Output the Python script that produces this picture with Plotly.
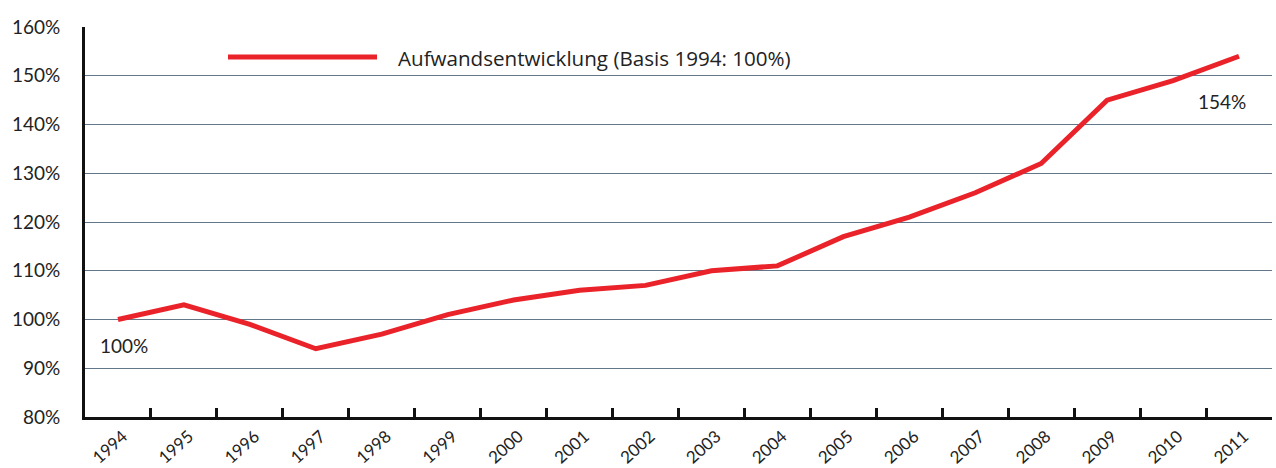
import plotly.graph_objects as go

years = [str(y) for y in range(1994, 2012)]
values = [100, 103, 99, 94, 97, 101, 104, 106, 107, 110, 111, 117, 121, 126, 132, 145, 149, 154]
series_name = "Aufwandsentwicklung (Basis 1994: 100%)"
y_ticks = [80, 90, 100, 110, 120, 130, 140, 150, 160]

red = "#ea2229"
grid = "#62788a"

fig = go.Figure()
fig.add_trace(go.Scatter(
    x=years, y=values, mode="lines", name=series_name,
    line=dict(color=red, width=5), showlegend=False, hoverinfo="skip",
))

first_idx = 0
last_idx = len(years) - 1

fig.update_layout(
    width=1276, height=468,
    margin=dict(l=85, r=4, t=27, b=51),
    paper_bgcolor="white", plot_bgcolor="white",
    font=dict(family="Lato, Open Sans, sans-serif", color="#222222"),
    xaxis=dict(
        type="category", range=[-0.5, 17.5], automargin=False,
        showline=True, linecolor="#111111", linewidth=3,
        ticks="inside", tickson="boundaries", ticklen=9, tickwidth=2.5, tickcolor="#111111",
        tickangle=-42, showgrid=False, ticklabelshift=5,
        tickfont=dict(size=17, family="Lato, sans-serif"),
    ),
    yaxis=dict(
        range=[80, 160], tickvals=y_ticks, ticktext=[f"{v}%" for v in y_ticks], automargin=False,
        showline=True, linecolor="#111111", linewidth=3,
        showgrid=True, gridcolor=grid, gridwidth=1.3, zeroline=False,
        ticks="", ticklabelstandoff=18, tickfont=dict(size=19, family="Lato, sans-serif"),
    ),
    shapes=[dict(type="line", xref="paper", yref="paper",
                 x0=(228 - 85) / 1187, x1=(377 - 85) / 1187, y0=(417 - 57) / 390, y1=(417 - 57) / 390,
                 line=dict(color=red, width=5))],
    annotations=[
        dict(xref="paper", yref="paper", x=(396 - 85) / 1187, y=(417 - 58) / 390,
             text=series_name, showarrow=False, xanchor="left", yanchor="middle",
             font=dict(size=20.6, family="Open Sans, sans-serif", color="#222222")),
        dict(xref="x", yref="y", x=first_idx, y=values[first_idx], text=f"{values[first_idx]}%", showarrow=False,
             xanchor="center", yanchor="top", yshift=-12, xshift=6,
             font=dict(size=19, family="Lato, sans-serif", color="#222222")),
        dict(xref="x", yref="y", x=last_idx, y=values[last_idx], text=f"{values[last_idx]}%", showarrow=False,
             xanchor="center", yanchor="top", yshift=-32, xshift=-17,
             font=dict(size=19, family="Lato, sans-serif", color="#222222")),
    ],
)

fig.write_html("out.html", config={"displayModeBar": False},
               post_script="document.body.style.margin='0px';document.body.style.overflow='hidden';")
